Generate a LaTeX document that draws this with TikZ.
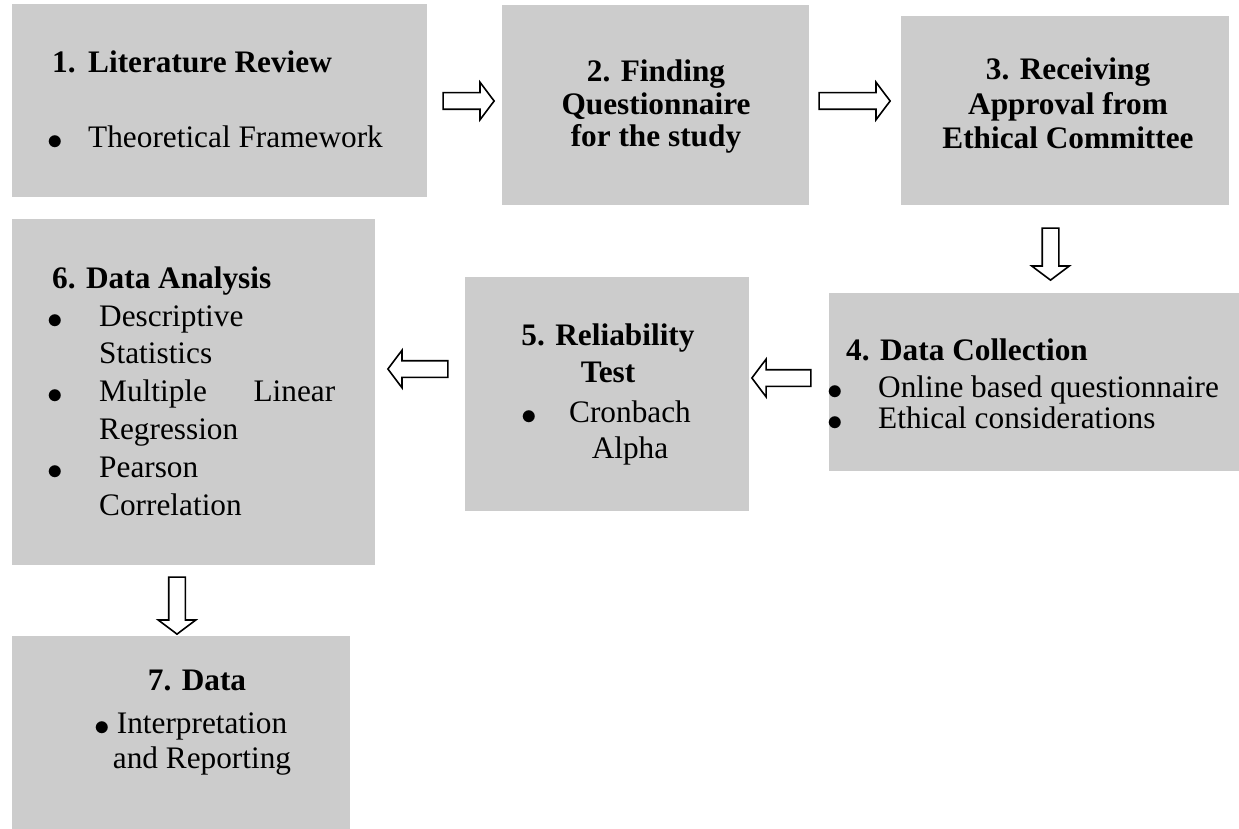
\documentclass[tikz,border=0pt]{standalone}
\usepackage{fontspec}
\setmainfont{Liberation Serif}
\usetikzlibrary{shapes.arrows}
\definecolor{boxgray}{HTML}{CCCCCC}
\tikzset{
  stepbox/.style={fill=boxgray, inner sep=0pt, anchor=north west},
  steptext/.style={inner sep=0pt, align=left, anchor=base west,
    font=\fontsize{31.3}{37.8}\selectfont},
  blockarrow/.style={single arrow, draw, line width=1.6pt, fill=white,
    inner sep=7.5pt, single arrow head extend=10.5pt, single arrow tip angle=106},
}
\newcommand{\bul}{\raisebox{-2pt}{\scalebox{1.25}{$\bullet$}}}
\newcommand{\itm}[1]{\makebox[#1][l]{\bul}}
\begin{document}
\begin{tikzpicture}[x=1pt, y=-1pt]
    \useasboundingbox (0,0) rectangle (1239,829);
    \node[stepbox, minimum width=415pt, minimum height=193pt] (lit) at (12,4) {};
    \node[stepbox, minimum width=307pt, minimum height=200pt] (quest) at (502,5) {};
    \node[stepbox, minimum width=328pt, minimum height=189pt] (ethic) at (901,16) {};
    \node[stepbox, minimum width=410pt, minimum height=178pt] (collect) at (829,293) {};
    \node[stepbox, minimum width=284pt, minimum height=234pt] (reliab) at (465,277) {};
    \node[stepbox, minimum width=363pt, minimum height=346pt] (analysis) at (12,219) {};
    \node[stepbox, minimum width=338pt, minimum height=194pt] (report) at (12,636) {};

    \node[steptext] (lit-t) at (52,148)
        {\textbf{\makebox[36pt][l]{1.}Literature Review}\\[38pt]
         \hspace*{-5pt}\itm{41pt}Theoretical Framework};
    \node[steptext, align=center, anchor=base, font=\bfseries\fontsize{31.3}{32.5}\selectfont]
        (quest-t) at (656,147) {2. Finding\\Questionnaire\\for the study};
    \node[steptext, align=center, anchor=base, font=\bfseries\fontsize{31.3}{34.5}\selectfont]
        (ethic-t) at (1068,149) {3. Receiving\\Approval from\\Ethical Committee};
    \node[steptext, font=\bfseries\fontsize{31.3}{37.8}\selectfont] (collect-h) at (846,360)
        {4. Data Collection};
    \node[steptext, font=\fontsize{31.3}{31}\selectfont] (collect-t) at (827,428)
        {\itm{51pt}Online based questionnaire\\
         \itm{51pt}Ethical considerations};
    \node[steptext, align=center, anchor=base, font=\bfseries\fontsize{31.3}{37}\selectfont]
        (reliab-h) at (608,382) {5. Reliability\\Test};
    \node[steptext, align=center, anchor=base, font=\fontsize{31.3}{36}\selectfont]
        (reliab-t) at (630,458) {\llap{\bul\hspace{32pt}}Cronbach\\Alpha};
    \node[steptext] (analysis-t) at (52,515)
        {\textbf{6. Data Analysis}\\
         \hspace*{-5pt}\itm{52pt}Descriptive\\
         \hspace*{47pt}Statistics\\
         \hspace*{-5pt}\itm{52pt}\hbox to 236pt{Multiple\hfill Linear}\\
         \hspace*{47pt}Regression\\
         \hspace*{-5pt}\itm{52pt}Pearson\\
         \hspace*{47pt}Correlation};
    \node[steptext, anchor=base, font=\bfseries\fontsize{31.3}{37.8}\selectfont]
        (report-h) at (197,690) {7. Data};
    \node[steptext, align=center, anchor=base, font=\fontsize{31.3}{35}\selectfont]
        (report-t) at (202,768) {\llap{\bul\hspace{7pt}}Interpretation\\and Reporting};

    \node[blockarrow, minimum height=51pt] (a12) at (465.5,101) {};
    \node[blockarrow, minimum height=71pt] (a23) at (851.5,101) {};
    \node[blockarrow, minimum height=52pt, rotate=-90] (a34) at (1050.5,251) {};
    \node[blockarrow, minimum height=59pt, rotate=180] (a45) at (784.5,378) {};
    \node[blockarrow, minimum height=60pt, rotate=180] (a56) at (421,369) {};
    \node[blockarrow, minimum height=57pt, rotate=-90] (a67) at (177,602.5) {};
\end{tikzpicture}
\end{document}
